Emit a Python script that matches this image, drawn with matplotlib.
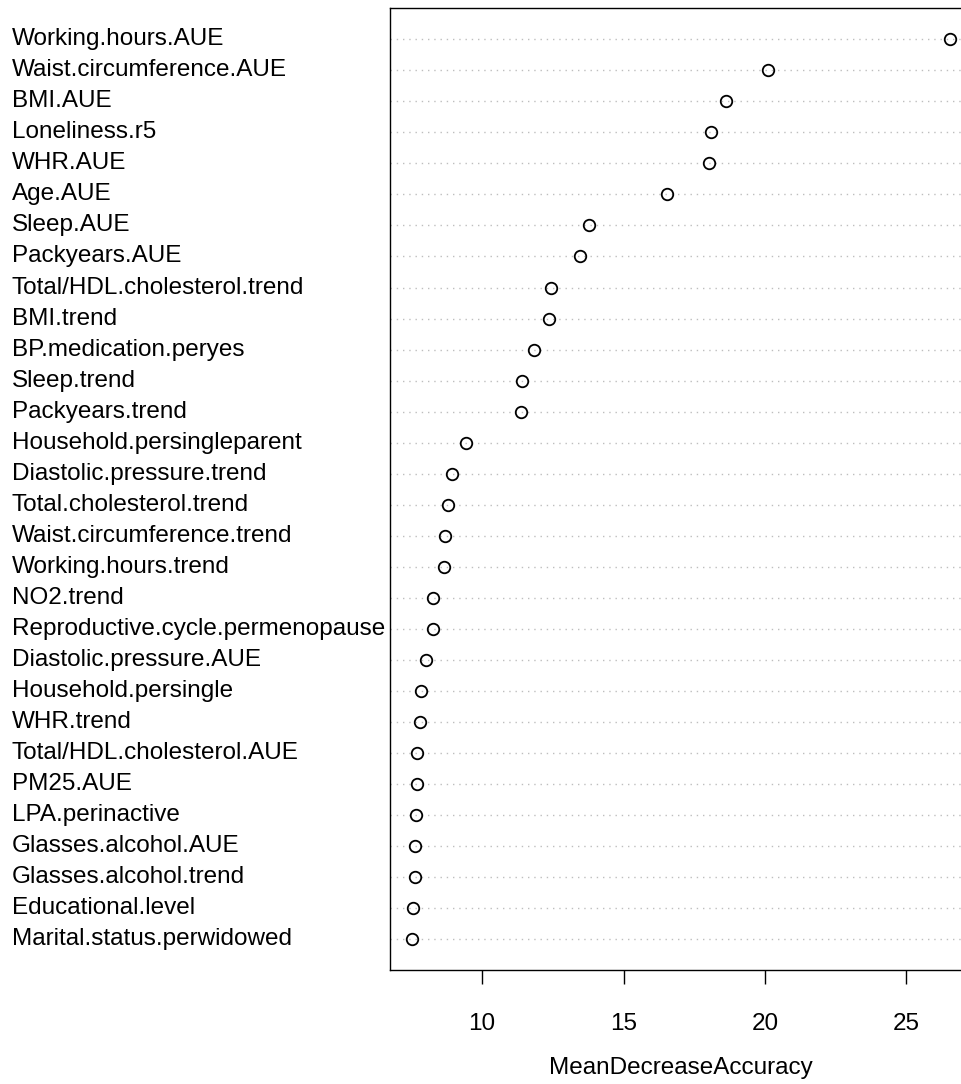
import matplotlib
matplotlib.use("Agg")
import matplotlib.pyplot as plt
from matplotlib import transforms

plt.rcParams['font.family'] = ['Liberation Sans', 'DejaVu Sans']

# Variables, listed top to bottom as in the chart
variables = [
    "Working.hours.AUE", "Waist.circumference.AUE", "BMI.AUE", "Loneliness.r5",
    "WHR.AUE", "Age.AUE", "Sleep.AUE", "Packyears.AUE",
    "Total/HDL.cholesterol.trend", "BMI.trend", "BP.medication.peryes",
    "Sleep.trend", "Packyears.trend", "Household.persingleparent",
    "Diastolic.pressure.trend", "Total.cholesterol.trend",
    "Waist.circumference.trend", "Working.hours.trend", "NO2.trend",
    "Reproductive.cycle.permenopause", "Diastolic.pressure.AUE",
    "Household.persingle", "WHR.trend", "Total/HDL.cholesterol.AUE",
    "PM25.AUE", "LPA.perinactive", "Glasses.alcohol.AUE",
    "Glasses.alcohol.trend", "Educational.level", "Marital.status.perwidowed",
]
mean_decrease_accuracy = [
    26.56, 20.12, 18.61, 18.10, 18.02, 16.55, 13.79, 13.46,
    12.42, 12.35, 11.82, 11.42, 11.38, 9.43,
    8.92, 8.78, 8.69, 8.66, 8.27,
    8.26, 8.00, 7.84, 7.80, 7.71,
    7.69, 7.66, 7.64, 7.63, 7.55, 7.52,
]
x_ticks = [10, 15, 20, 25]
x_label = "MeanDecreaseAccuracy"

W, H = 961, 1084
fig = plt.figure(figsize=(W / 100, H / 100), dpi=100)
left_px, right_px, top_px, bottom_px = 390.4, 972.0, 8.3, 970.0
ax = fig.add_axes([left_px / W, 1 - bottom_px / H,
                   (right_px - left_px) / W, (bottom_px - top_px) / H])

n = len(variables)
ypos = [n - i for i in range(n)]

for y in ypos:
    ax.axhline(y, color="#BEBEBE", lw=1.0, linestyle=(0, (1, 3.5)), zorder=1)

ax.plot(mean_decrease_accuracy, ypos, linestyle="none", marker="o",
        markersize=8.3, markerfacecolor="none", markeredgecolor="black",
        markeredgewidth=1.3, zorder=3)

vmin, vmax = min(mean_decrease_accuracy), max(mean_decrease_accuracy)
ext = 0.04 * (vmax - vmin)
ax.set_xlim(vmin - ext, vmax + ext)
ax.set_ylim(0, n + 1)

ax.set_yticks([])
ax.set_xticks(x_ticks)
ax.set_xticklabels([str(t) for t in x_ticks], fontsize=17.5)
ax.tick_params(axis="x", length=10, width=1.0, pad=21, color="black")
for s in ax.spines.values():
    s.set_linewidth(1.0)
    s.set_color("black")

trans = transforms.blended_transform_factory(fig.transFigure, ax.transData)
for name, y in zip(variables, ypos):
    ax.text(12 / W, y, name, transform=trans, ha="left", va="center",
            fontsize=17.5, clip_on=False)

fig.text(681 / W, 1 - 1068 / H, x_label, ha="center", va="center", fontsize=17.5)

fig.savefig("out.png", dpi=100)
